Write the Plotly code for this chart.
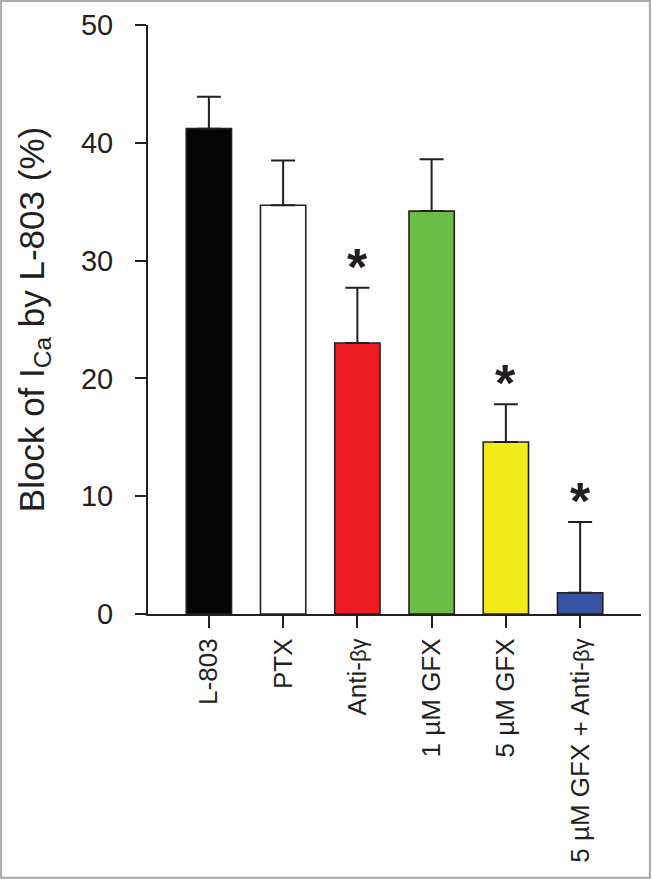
import plotly.graph_objects as go

# data
groups = ["L-803", "PTX", "Anti-βγ", "1 μM GFX", "5 μM GFX", "5 μM GFX + Anti-βγ"]
tick_labels = [
    "L-803",
    "PTX",
    "Anti-<span style='font-size:22px'>βγ</span>",
    "1 µM GFX",
    "5 µM GFX",
    "5 µM GFX + Anti-<span style='font-size:22px'>βγ</span>",
]
block_pct = [41.2, 34.7, 23.0, 34.2, 14.6, 1.8]
sem_pct = [2.7, 3.8, 4.7, 4.4, 3.2, 6.0]
significant = [False, False, True, False, True, True]

bar_colors = ["#050505", "#ffffff", "#ed1c24", "#6abd45", "#f2eb1a", "#3953a4"]
FONT = "Arial, Liberation Sans, sans-serif"
INK = "#231f20"

fig = go.Figure()
fig.add_trace(
    go.Bar(
        x=groups,
        y=block_pct,
        marker={"color": bar_colors, "line": {"color": INK, "width": 1.6}},
        error_y={
            "type": "data",
            "symmetric": False,
            "array": sem_pct,
            "arrayminus": [0] * len(sem_pct),
            "color": INK,
            "thickness": 2,
            "width": 12,
        },
        showlegend=False,
    )
)

for g, m, e, s in zip(groups, block_pct, sem_pct, significant):
    if s:
        fig.add_annotation(
            x=g,
            y=m + e,
            text="<b>*</b>",
            showarrow=False,
            yanchor="bottom",
            yshift=-10,
            font={"family": FONT, "size": 52, "color": INK},
        )

# grey frame round the whole picture
fig.add_shape(
    type="rect",
    xref="paper",
    yref="paper",
    x0=-0.298,
    x1=1.018,
    y0=-0.448,
    y1=1.0407,
    line={"color": "#a8a8a8", "width": 2},
    layer="below",
)

fig.update_layout(
    width=652,
    height=880,
    margin={"l": 148, "r": 11, "t": 25, "b": 266},
    paper_bgcolor="white",
    plot_bgcolor="white",
    bargap=0.39,
    font={"family": FONT, "color": INK},
    xaxis={
        "type": "category",
        "automargin": False,
        "range": [-0.82, 5.82],
        "tickmode": "array",
        "tickvals": groups,
        "ticktext": tick_labels,
        "tickangle": -90,
        "ticks": "outside",
        "ticklen": 12,
        "tickwidth": 2,
        "tickcolor": INK,
        "showline": True,
        "linecolor": INK,
        "linewidth": 2,
        "showgrid": False,
        "tickfont": {"size": 26},
        "ticklabelstandoff": 0,
    },
    yaxis={
        "automargin": False,
        "range": [0, 50],
        "tickvals": [0, 10, 20, 30, 40, 50],
        "ticks": "outside",
        "ticklen": 11,
        "tickwidth": 2,
        "tickcolor": INK,
        "showline": True,
        "linecolor": INK,
        "linewidth": 2,
        "showgrid": False,
        "zeroline": False,
        "tickfont": {"size": 29},
        "ticklabelstandoff": 16,
        "title": {
            "text": "Block of I<sub>Ca</sub> by L-803 (%)",
            "font": {"size": 35},
            "standoff": 26,
        },
    },
)

# the page's default body margin would push the figure 8px in
fig.write_html(
    "out.html",
    config={"displayModeBar": False},
    post_script="document.body.style.margin='0';",
)
